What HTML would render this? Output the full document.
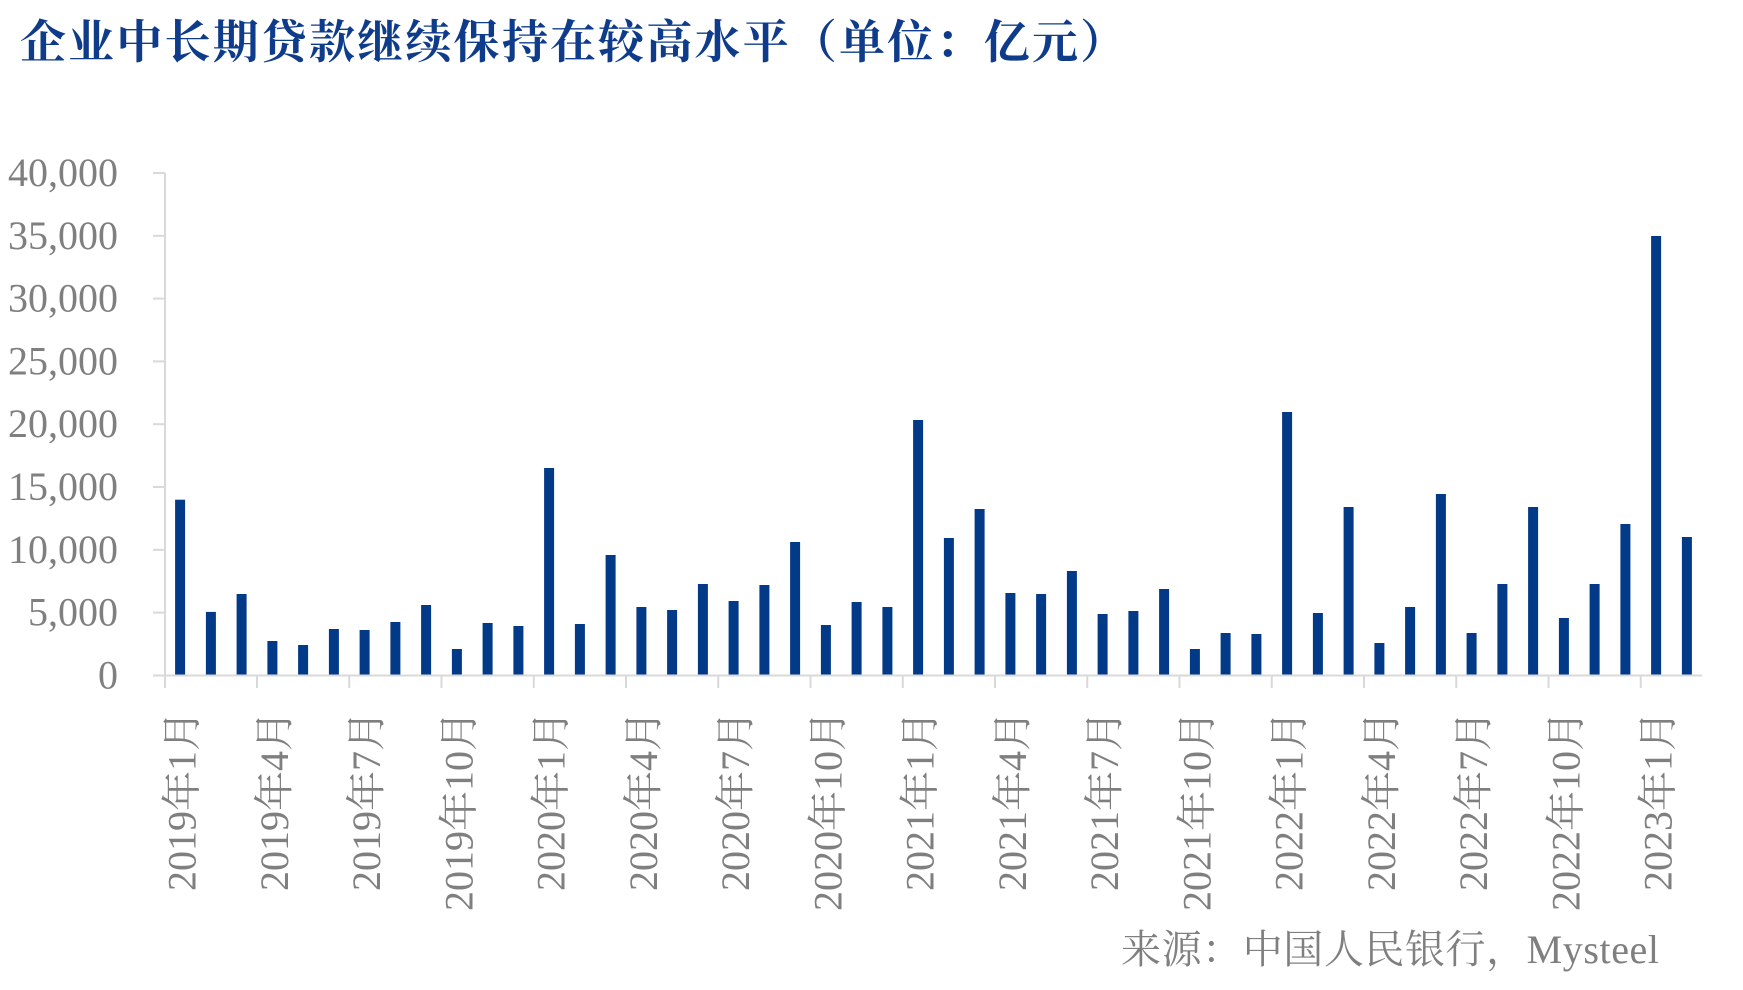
<!DOCTYPE html>
<html>
<head>
<meta charset="utf-8">
<style>
  html, body { margin: 0; padding: 0; background: #ffffff; }
  svg { display: block; }
  .lbl { font-family: "Liberation Serif", "Noto Serif CJK SC", serif; font-size: 40px; fill: #7f7f7f; }
  .title { font-family: "Liberation Serif", "Noto Serif CJK SC", serif; font-size: 46px; font-weight: 700; fill: #0f3c8a; }
</style>
</head>
<body>
<svg width="1743" height="990" viewBox="0 0 1743 990" xmlns="http://www.w3.org/2000/svg">
  <rect x="0" y="0" width="1743" height="990" fill="#ffffff"/>

  <text class="title" x="20" y="58" textLength="1106" lengthAdjust="spacing">企业中长期贷款继续保持在较高水平（单位：亿元）</text>

  <g class="lbl" text-anchor="end">
    <text x="118" y="186">40,000</text>
    <text x="118" y="248.8">35,000</text>
    <text x="118" y="311.6">30,000</text>
    <text x="118" y="374.4">25,000</text>
    <text x="118" y="437.2">20,000</text>
    <text x="118" y="500">15,000</text>
    <text x="118" y="562.8">10,000</text>
    <text x="118" y="625.6">5,000</text>
    <text x="118" y="688.4">0</text>
  </g>

  <g fill="#033a88">
    <rect x="175.1" y="499.7" width="10" height="175.8"/>
    <rect x="205.9" y="611.9" width="10" height="63.6"/>
    <rect x="236.6" y="594.0" width="10" height="81.5"/>
    <rect x="267.4" y="641.0" width="10" height="34.5"/>
    <rect x="298.1" y="645.0" width="10" height="30.5"/>
    <rect x="328.9" y="629.0" width="10" height="46.5"/>
    <rect x="359.6" y="630.0" width="10" height="45.5"/>
    <rect x="390.4" y="622.0" width="10" height="53.5"/>
    <rect x="421.1" y="605.0" width="10" height="70.5"/>
    <rect x="451.9" y="649.0" width="10" height="26.5"/>
    <rect x="482.6" y="623.0" width="10" height="52.5"/>
    <rect x="513.4" y="626.0" width="10" height="49.5"/>
    <rect x="544.1" y="468.0" width="10" height="207.5"/>
    <rect x="574.9" y="624.0" width="10" height="51.5"/>
    <rect x="605.6" y="555.0" width="10" height="120.5"/>
    <rect x="636.4" y="607.0" width="10" height="68.5"/>
    <rect x="667.1" y="610.0" width="10" height="65.5"/>
    <rect x="697.9" y="584.0" width="10" height="91.5"/>
    <rect x="728.6" y="601.0" width="10" height="74.5"/>
    <rect x="759.4" y="585.0" width="10" height="90.5"/>
    <rect x="790.1" y="542.0" width="10" height="133.5"/>
    <rect x="820.9" y="625.0" width="10" height="50.5"/>
    <rect x="851.6" y="602.0" width="10" height="73.5"/>
    <rect x="882.4" y="607.0" width="10" height="68.5"/>
    <rect x="913.1" y="420.0" width="10" height="255.5"/>
    <rect x="943.9" y="538.0" width="10" height="137.5"/>
    <rect x="974.6" y="509.0" width="10" height="166.5"/>
    <rect x="1005.4" y="593.0" width="10" height="82.5"/>
    <rect x="1036.1" y="594.0" width="10" height="81.5"/>
    <rect x="1066.9" y="571.0" width="10" height="104.5"/>
    <rect x="1097.6" y="614.0" width="10" height="61.5"/>
    <rect x="1128.4" y="611.0" width="10" height="64.5"/>
    <rect x="1159.1" y="589.0" width="10" height="86.5"/>
    <rect x="1189.9" y="649.0" width="10" height="26.5"/>
    <rect x="1220.6" y="633.0" width="10" height="42.5"/>
    <rect x="1251.4" y="634.0" width="10" height="41.5"/>
    <rect x="1282.1" y="412.0" width="10" height="263.5"/>
    <rect x="1312.9" y="613.0" width="10" height="62.5"/>
    <rect x="1343.6" y="507.0" width="10" height="168.5"/>
    <rect x="1374.4" y="643.0" width="10" height="32.5"/>
    <rect x="1405.1" y="607.0" width="10" height="68.5"/>
    <rect x="1435.9" y="494.0" width="10" height="181.5"/>
    <rect x="1466.6" y="633.0" width="10" height="42.5"/>
    <rect x="1497.4" y="584.0" width="10" height="91.5"/>
    <rect x="1528.1" y="507.0" width="10" height="168.5"/>
    <rect x="1558.9" y="618.0" width="10" height="57.5"/>
    <rect x="1589.6" y="584.0" width="10" height="91.5"/>
    <rect x="1620.4" y="524.0" width="10" height="151.5"/>
    <rect x="1651.1" y="236.0" width="10" height="439.5"/>
    <rect x="1681.9" y="537.0" width="10" height="138.5"/>
  </g>

  <g stroke="#d9d9d9" stroke-width="2" fill="none">
    <line x1="165" y1="173" x2="165" y2="688"/>
    <line x1="153" y1="173" x2="165" y2="173"/>
    <line x1="153" y1="235.8" x2="165" y2="235.8"/>
    <line x1="153" y1="298.6" x2="165" y2="298.6"/>
    <line x1="153" y1="361.4" x2="165" y2="361.4"/>
    <line x1="153" y1="424.2" x2="165" y2="424.2"/>
    <line x1="153" y1="487" x2="165" y2="487"/>
    <line x1="153" y1="549.8" x2="165" y2="549.8"/>
    <line x1="153" y1="612.6" x2="165" y2="612.6"/>
    <line x1="153" y1="675.5" x2="1702" y2="675.5"/>
    <line x1="257" y1="675.5" x2="257" y2="688"/>
    <line x1="349.25" y1="675.5" x2="349.25" y2="688"/>
    <line x1="441.5" y1="675.5" x2="441.5" y2="688"/>
    <line x1="533.75" y1="675.5" x2="533.75" y2="688"/>
    <line x1="626" y1="675.5" x2="626" y2="688"/>
    <line x1="718.25" y1="675.5" x2="718.25" y2="688"/>
    <line x1="810.5" y1="675.5" x2="810.5" y2="688"/>
    <line x1="902.75" y1="675.5" x2="902.75" y2="688"/>
    <line x1="995" y1="675.5" x2="995" y2="688"/>
    <line x1="1087.25" y1="675.5" x2="1087.25" y2="688"/>
    <line x1="1179.5" y1="675.5" x2="1179.5" y2="688"/>
    <line x1="1271.75" y1="675.5" x2="1271.75" y2="688"/>
    <line x1="1364" y1="675.5" x2="1364" y2="688"/>
    <line x1="1456.25" y1="675.5" x2="1456.25" y2="688"/>
    <line x1="1548.5" y1="675.5" x2="1548.5" y2="688"/>
    <line x1="1640.75" y1="675.5" x2="1640.75" y2="688"/>
  </g>

  <g class="lbl" text-anchor="end">
    <text transform="translate(195.6,711) rotate(-90)">2019年1月</text>
    <text transform="translate(287.9,711) rotate(-90)">2019年4月</text>
    <text transform="translate(380.1,711) rotate(-90)">2019年7月</text>
    <text transform="translate(472.4,711) rotate(-90)">2019年10月</text>
    <text transform="translate(564.6,711) rotate(-90)">2020年1月</text>
    <text transform="translate(656.9,711) rotate(-90)">2020年4月</text>
    <text transform="translate(749.1,711) rotate(-90)">2020年7月</text>
    <text transform="translate(841.4,711) rotate(-90)">2020年10月</text>
    <text transform="translate(933.6,711) rotate(-90)">2021年1月</text>
    <text transform="translate(1025.9,711) rotate(-90)">2021年4月</text>
    <text transform="translate(1118.1,711) rotate(-90)">2021年7月</text>
    <text transform="translate(1210.4,711) rotate(-90)">2021年10月</text>
    <text transform="translate(1302.6,711) rotate(-90)">2022年1月</text>
    <text transform="translate(1394.9,711) rotate(-90)">2022年4月</text>
    <text transform="translate(1487.1,711) rotate(-90)">2022年7月</text>
    <text transform="translate(1579.4,711) rotate(-90)">2022年10月</text>
    <text transform="translate(1671.6,711) rotate(-90)">2023年1月</text>
  </g>

  <text class="lbl" x="1121" y="963" textLength="538" lengthAdjust="spacing">来源：中国人民银行，Mysteel</text>
</svg>
</body>
</html>
